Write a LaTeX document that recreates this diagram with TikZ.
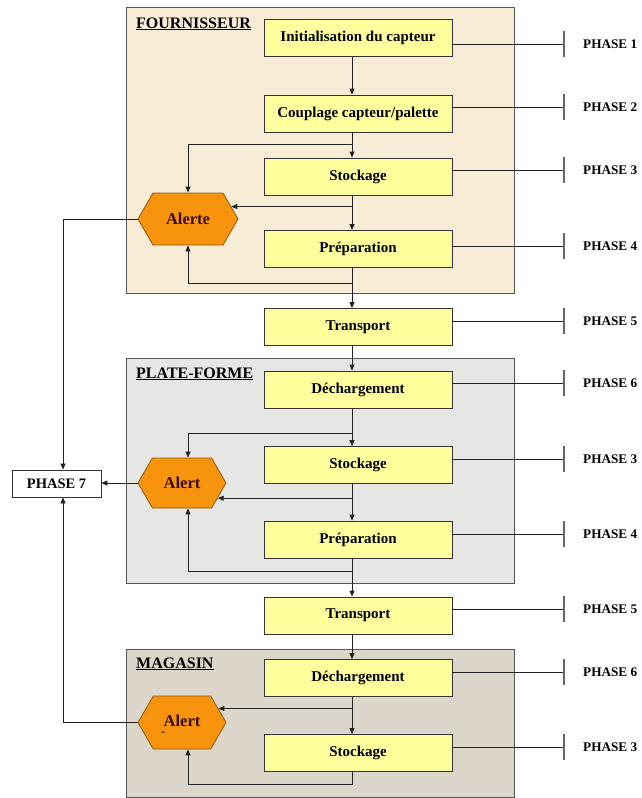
\documentclass[tikz,border=0pt]{standalone}
\usepackage{fontspec}
\setmainfont{Liberation Serif}
\usetikzlibrary{arrows.meta,shapes.symbols}
\definecolor{fourfill}{HTML}{F9ECD6}
\definecolor{platfill}{HTML}{E6E6E4}
\definecolor{magfill}{HTML}{DCD5CA}
\definecolor{regline}{HTML}{555555}
\definecolor{boxfill}{HTML}{FFFF9E}
\definecolor{boxline}{HTML}{333333}
\definecolor{hexfill}{HTML}{F7930C}
\definecolor{hexline}{HTML}{8A5A10}
\definecolor{alerttext}{HTML}{3A0C00}
\definecolor{conn}{HTML}{222222}
\definecolor{tickcol}{HTML}{666666}
\begin{document}
\begin{tikzpicture}[x=1pt,y=-1pt,
  region/.style={draw=regline,line width=0.9pt},
  reglabel/.style={anchor=base west,inner sep=0pt,font=\bfseries\fontsize{16}{18}\selectfont},
  stepbox/.style={draw=boxline,fill=boxfill,line width=0.8pt,minimum width=188pt,minimum height=37pt,inner sep=0pt,font=\bfseries\fontsize{15}{17}\selectfont},
  hexa/.style={shape=signal,signal to=east and west,signal pointer angle=120,fill=hexfill,draw=hexline,line width=0.8pt,inner sep=0pt,text=alerttext,font=\bfseries\fontsize{16.5}{18}\selectfont},
  arr/.style={draw=conn,line width=0.8pt,-{Triangle[length=6pt,width=5pt]}},
  link/.style={draw=conn,line width=0.8pt},
  tickmark/.style={draw=tickcol,line width=1.2pt},
  phlab/.style={anchor=west,inner sep=0pt,font=\bfseries\fontsize{13.2}{15}\selectfont},
  ph7box/.style={draw=boxline,fill=white,line width=0.8pt,minimum width=89pt,minimum height=27pt,inner sep=0pt,font=\bfseries\fontsize{14.5}{16}\selectfont}
]
\useasboundingbox (0,0) rectangle (641,798);
% regions
\filldraw[region,fill=fourfill] (126,7) rectangle (514,293);
\filldraw[region,fill=platfill] (126,358) rectangle (514,583);
\filldraw[region,fill=magfill] (126,649) rectangle (514,797);
\node[reglabel] (lf) at (136,28) {\underline{FOURNISSEUR}};
\node[reglabel] (lp) at (136,378) {\underline{PLATE-FORME}};
\node[reglabel] (lm) at (136,668) {\underline{MAGASIN}};
% step boxes
\node[stepbox] (i1) at (358,38) {Initialisation du capteur};
\node[stepbox] (c1) at (358,113.5) {Couplage capteur/palette};
\node[stepbox] (s1) at (358,176.5) {Stockage};
\node[stepbox] (p1) at (358,249) {Préparation};
\node[stepbox] (t1) at (358,327) {Transport};
\node[stepbox] (d2) at (358,389.5) {Déchargement};
\node[stepbox] (s2) at (358,465) {Stockage};
\node[stepbox] (p2) at (358,539.5) {Préparation};
\node[stepbox] (t2) at (358,615.5) {Transport};
\node[stepbox] (d3) at (358,678) {Déchargement};
\node[stepbox] (s3) at (358,753) {Stockage};
% alerts
\node[hexa,minimum width=100pt,minimum height=52pt] (a1) at (188,219) {Alerte};
\node[hexa,minimum width=88pt,minimum height=50pt] (a2) at (182,483) {Alert};
\node[hexa,minimum width=88pt,minimum height=53pt] (a3) at (182,722.5) {\raisebox{4pt}{Alert}};
\node[inner sep=0pt,text=alerttext,font=\bfseries\fontsize{12}{12}\selectfont] (dash) at (163,734) {-};
% phase 7
\node[ph7box] (ph7) at (56.5,483.5) {PHASE 7};
% spine
\coordinate (sp) at (352,0);
\draw[arr] (i1.south -| sp) -- (c1.north -| sp);
\draw[arr] (c1.south -| sp) -- (s1.north -| sp);
\coordinate (k1) at (352,144);
\draw[arr] (k1) -| (a1.north);
\draw[arr] (s1.south -| sp) -- (p1.north -| sp);
\draw[arr] (a1.16 -| sp) -- (a1.16);
\draw[arr] (p1.south -| sp) -- (t1.north -| sp);
\coordinate (k2) at (352,283);
\draw[arr] (k2) -| (a1.south);
\draw[arr] (t1.south -| sp) -- (d2.north -| sp);
\draw[arr] (d2.south -| sp) -- (s2.north -| sp);
\coordinate (k3) at (352,433);
\draw[arr] (k3) -| ([xshift=6pt]a2.north);
\draw[arr] (s2.south -| sp) -- (p2.north -| sp);
\draw[arr] (a2.-23 -| sp) -- (a2.-23);
\draw[arr] (p2.south -| sp) -- (t2.north -| sp);
\coordinate (k4) at (352,571);
\draw[arr] (k4) -| ([xshift=6pt]a2.south);
\draw[arr] (t2.south -| sp) -- (d3.north -| sp);
\draw[arr] (d3.south -| sp) -- (s3.north -| sp);
\draw[arr] (a3.21 -| sp) -- (a3.21);
\coordinate (k5) at (352,784);
\draw[arr] (s3.south -| sp) -- (k5) -| ([xshift=6pt]a3.south);
% to phase 7
\coordinate (v7) at (63,0);
\draw[arr] (a1.west) -| (v7 |- ph7.north);
\draw[arr] (a2.west) -- (a2.west -| ph7.east);
\draw[arr] (a3.west) -| (v7 |- ph7.south);
% phase ticks
\foreach \n/\y/\lab in {i1/44/1,c1/107/2,s1/170/3,p1/246/4,t1/321/5,d2/383/6,s2/459/3,p2/534/4,t2/609/5,d3/672/6,s3/747/3}{
  \coordinate (T\n) at (564,\y);
  \draw[link] (T\n -| \n.east) -- (T\n);
  \draw[tickmark] ([yshift=13pt]T\n) -- ([yshift=-13pt]T\n);
  \node[phlab] (L\n) at (583,\y) {PHASE \lab};
}
\end{tikzpicture}
\end{document}
